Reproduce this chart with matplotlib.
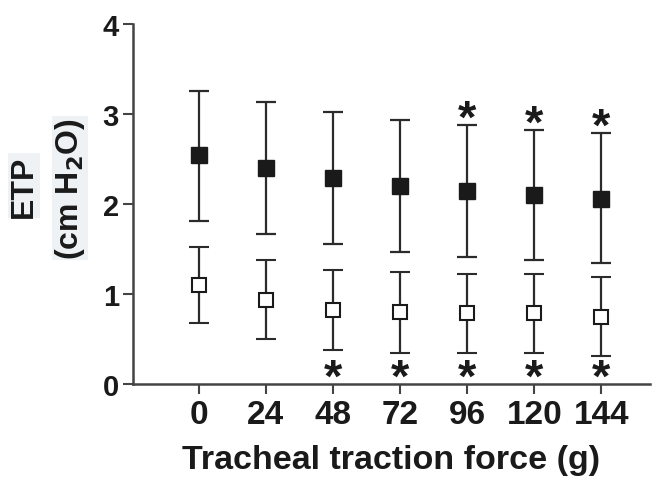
import numpy as np
import matplotlib
matplotlib.use('Agg')
import matplotlib.pyplot as plt

plt.rcParams['font.family'] = ['Liberation Sans', 'DejaVu Sans']
plt.rcParams['font.weight'] = 'bold'

force = ['0', '24', '48', '72', '96', '120', '144']

# filled squares
etp_filled = [2.54, 2.40, 2.29, 2.20, 2.14, 2.10, 2.06]
filled_upper = [3.26, 3.13, 3.02, 2.93, 2.88, 2.82, 2.79]
filled_lower = [1.81, 1.67, 1.56, 1.47, 1.41, 1.38, 1.34]

# open squares
etp_open = [1.10, 0.93, 0.82, 0.80, 0.79, 0.79, 0.74]
open_upper = [1.52, 1.38, 1.27, 1.24, 1.22, 1.22, 1.19]
open_lower = [0.68, 0.50, 0.38, 0.34, 0.34, 0.34, 0.31]

# significance markers
star_filled = [False, False, False, False, True, True, True]
star_open = [False, False, True, True, True, True, True]

x = np.arange(len(force))
ink = '#2b2b2b'

fig = plt.figure(figsize=(6.61, 4.89), dpi=100)
ax = fig.add_axes([0.201, 0.2127, 0.782, 0.7363])

ef = [np.array(etp_filled) - np.array(filled_lower), np.array(filled_upper) - np.array(etp_filled)]
eo = [np.array(etp_open) - np.array(open_lower), np.array(open_upper) - np.array(etp_open)]

ax.errorbar(x, etp_filled, yerr=ef, fmt='s', color=ink, ecolor=ink, elinewidth=1.6,
            capsize=7, capthick=1.6, markersize=11.5, markerfacecolor='#1a1a1a',
            markeredgecolor='#1a1a1a', zorder=3)
ax.errorbar(x, etp_open, yerr=eo, fmt='s', color=ink, ecolor=ink, elinewidth=1.6,
            capsize=7, capthick=1.6, markersize=10.5, markerfacecolor='white',
            markeredgecolor='#1a1a1a', markeredgewidth=1.5, zorder=3)

for i in range(len(force)):
    if star_filled[i]:
        ax.annotate('*', (x[i], filled_upper[i]), xytext=(0, -12), textcoords='offset points',
                    ha='center', va='bottom', fontsize=34, color='#1a1a1a', annotation_clip=False)
    if star_open[i]:
        ax.annotate('*', (x[i], 0), xytext=(0, -12), textcoords='offset points',
                    ha='center', va='bottom', fontsize=34, color='#1a1a1a', annotation_clip=False)

ax.set_xlim(-0.98, 6.72)
ax.set_ylim(0, 4)
ax.set_yticks([0, 1, 2, 3, 4])
ax.set_xticks(x)
ax.set_xticklabels(force)

for s in ['top', 'right']:
    ax.spines[s].set_visible(False)
for s in ['left', 'bottom']:
    ax.spines[s].set_color('#444444')
    ax.spines[s].set_linewidth(1.8)

ax.tick_params(axis='both', direction='out', length=7, width=1.5, color='#444444',
               labelcolor='#1a1a1a')
ax.tick_params(axis='y', pad=3, labelsize=21)
ax.tick_params(axis='x', pad=4, labelsize=24)

ax.set_xlabel('Tracheal traction force (g)', fontsize=24.5, fontweight='bold', color='#1a1a1a', labelpad=10)

fig.text(0.036, 0.618, 'ETP', rotation=90, ha='center', va='center', fontsize=23,
         fontweight='bold', color='#1a1a1a',
         bbox=dict(facecolor='#eef2f4', edgecolor='none', pad=1))
fig.text(0.106, 0.613, r'(cm H$_\mathbf{2}$O)', rotation=90, ha='center', va='center', fontsize=23,
         fontweight='bold', color='#1a1a1a',
         bbox=dict(facecolor='#eef2f4', edgecolor='none', pad=1))

fig.savefig('out.png', dpi=100)
